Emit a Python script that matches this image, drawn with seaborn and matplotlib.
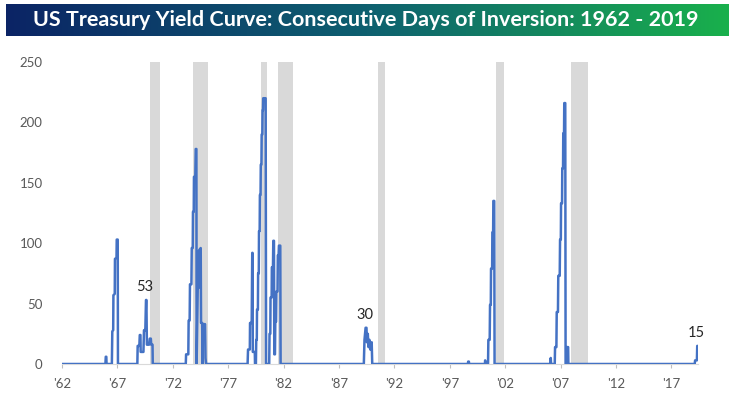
import numpy as np
import pandas as pd
import matplotlib.pyplot as plt
import seaborn as sns
from matplotlib.colors import LinearSegmentedColormap

# NBER recessions (decimal years)
rec_start = [1969.92, 1973.83, 1980.00, 1981.50, 1990.50, 2001.17, 2007.92]
rec_end = [1970.88, 1975.17, 1980.50, 1982.83, 1991.17, 2001.88, 2009.50]

# inversion episodes, vertices (decimal year, consecutive days)
ep66_x = [1965.92, 1965.95, 1966.00, 1966.02]
ep66_y = [0, 6, 6, 0]
ep67_x = [1966.50, 1966.54, 1966.62, 1966.64, 1966.76, 1966.78, 1966.92, 1966.94, 1967.03, 1967.05]
ep67_y = [0, 27, 28, 57, 58, 87, 88, 103, 103, 0]
ep69_x = [1968.80, 1968.83, 1968.98, 1969.02, 1969.08, 1969.10, 1969.35, 1969.40, 1969.52, 1969.58,
          1969.62, 1969.66, 1969.86, 1969.92, 1970.02, 1970.05, 1970.17, 1970.19]
ep69_y = [0, 15, 15, 24, 24, 10, 10, 28, 28, 53, 53, 16, 16, 21, 21, 16, 16, 0]
ep73_x = [1973.17, 1973.20, 1973.40, 1973.43, 1973.52, 1973.55, 1973.68, 1973.71, 1973.80, 1973.82,
          1973.89, 1973.91, 1974.03, 1974.07, 1974.13, 1974.15, 1974.20, 1974.25, 1974.33, 1974.36,
          1974.52, 1974.55, 1974.65, 1974.68, 1974.70, 1974.91, 1974.95, 1975.00]
ep73_y = [0, 8, 8, 36, 36, 66, 66, 96, 96, 126, 126, 155, 155, 178, 178, 0, 30, 63, 63, 94,
          96, 34, 34, 0, 33, 33, 5, 0]
ep79_x = [1978.75, 1978.79, 1978.95, 1978.97, 1979.12, 1979.17, 1979.20, 1979.22, 1979.40, 1979.42,
          1979.50, 1979.53, 1979.58, 1979.60, 1979.68, 1979.70, 1979.76, 1979.78, 1979.84, 1979.86,
          1979.92, 1979.94, 1980.00, 1980.02, 1980.08, 1980.10, 1980.14, 1980.16, 1980.38, 1980.42]
ep79_y = [0, 12, 12, 34, 34, 92, 92, 10, 10, 0,
          0, 20, 20, 45, 45, 75, 75, 110, 110, 140,
          140, 165, 165, 190, 190, 210, 210, 220, 220, 0]
ep81_x = [1980.70, 1980.73, 1980.80, 1980.82, 1980.92, 1980.94, 1981.04, 1981.07, 1981.13, 1981.16,
          1981.22, 1981.25, 1981.32, 1981.35, 1981.45, 1981.48, 1981.55, 1981.58, 1981.70, 1981.73]
ep81_y = [0, 25, 25, 55, 55, 80, 80, 102, 102, 8,
          8, 35, 35, 60, 60, 90, 90, 98, 98, 0]
ep89_x = [1989.24, 1989.30, 1989.40, 1989.48, 1989.52, 1989.60, 1989.66, 1989.75, 1989.82, 1989.95, 1990.00]
ep89_y = [0, 20, 30, 30, 18, 25, 14, 20, 12, 18, 0]
ep98_x = [1998.62, 1998.66, 1998.72, 1998.75]
ep98_y = [0, 2, 2, 0]
ep00_x = [2000.17, 2000.19, 2000.22, 2000.45, 2000.48, 2000.60, 2000.63, 2000.70, 2000.72, 2000.82,
          2000.84, 2000.91, 2000.93, 2001.01, 2001.04]
ep00_y = [0, 3, 0, 0, 20, 20, 49, 49, 79, 79, 109, 109, 135, 135, 0]
ep06_x = [2006.09, 2006.11, 2006.14, 2006.47, 2006.50, 2006.62, 2006.65, 2006.76, 2006.79, 2006.92,
          2006.95, 2007.02, 2007.04, 2007.13, 2007.15, 2007.22, 2007.24, 2007.31, 2007.33, 2007.42,
          2007.45, 2007.52, 2007.55, 2007.68, 2007.70]
ep06_y = [0, 5, 0, 0, 14, 14, 43, 43, 73, 73, 103, 103, 133, 133, 162, 162, 191, 191, 216, 216,
          0, 0, 14, 14, 0]
ep19_x = [2019.10, 2019.14, 2019.30, 2019.33, 2019.35]
ep19_y = [0, 3, 3, 15, 15]

years = [1962.0] + ep66_x + ep67_x + ep69_x + ep73_x + ep79_x + ep81_x + ep89_x + ep98_x + ep00_x + ep06_x + ep19_x
days = [0] + ep66_y + ep67_y + ep69_y + ep73_y + ep79_y + ep81_y + ep89_y + ep98_y + ep00_y + ep06_y + ep19_y

tick_years = list(range(1962, 2018, 5))
tick_labels = ["'" + str(y)[2:] for y in tick_years]

ann_x = [1969.58, 1989.44, 2019.34]
ann_y = [53, 30, 15]

df = pd.DataFrame({"year": years, "days": days})

sns.set_style("white")
plt.rcParams['font.family'] = ['Lato', 'DejaVu Sans']

fig = plt.figure(figsize=(7.34, 3.93), dpi=100)
ax = fig.add_axes([62/734, 1 - 364/393, 636/734, 302/393])

for s, e in zip(rec_start, rec_end):
    ax.axvspan(s, e, color='#d9d9d9', lw=0, zorder=0)

sns.lineplot(data=df, x="year", y="days", sort=False, estimator=None,
             color='#4472c4', lw=1.8, ax=ax, zorder=3)

for x, y in zip(ann_x, ann_y):
    ax.annotate(str(y), (x, y), xytext=(-1, 9.5), textcoords='offset points',
                ha='center', va='center', fontsize=10.5, color='#262626')

ax.set_xlim(1962, 2019.4)
ax.set_ylim(0, 250)
ax.set_xticks(tick_years)
ax.set_xticklabels(tick_labels)
ax.set_yticks(range(0, 251, 50))
ax.set_xlabel("")
ax.set_ylabel("")
ax.tick_params(axis='x', length=3, color='#bfbfbf', labelsize=9.5, labelcolor='#595959', pad=7, bottom=True)
ax.tick_params(axis='y', length=0, labelsize=9.5, labelcolor='#595959', pad=14)
sns.despine(ax=ax, left=True, top=True, right=True, bottom=False)
ax.spines['bottom'].set_color('#d9d9d9')

# title banner with gradient
bax = fig.add_axes([6/734, 1 - 36/393, 723/734, 32/393])
cmap = LinearSegmentedColormap.from_list("banner", ['#0b2465', '#0e6070', '#19b04c'])
bax.imshow(np.linspace(0, 1, 256).reshape(1, -1), aspect='auto', cmap=cmap, extent=[0, 1, 0, 1])
bax.set_axis_off()
title = bax.text(0.497, 0.5, "US Treasury Yield Curve: Consecutive Days of Inversion: 1962 - 2019",
                 ha='center', va='center', color='white', fontweight='bold', fontsize=15,
                 transform=bax.transAxes)
fig.canvas.draw()
w = title.get_window_extent().width
title.set_fontsize(15 * 665 / w)

fig.savefig("out.png", dpi=100)
